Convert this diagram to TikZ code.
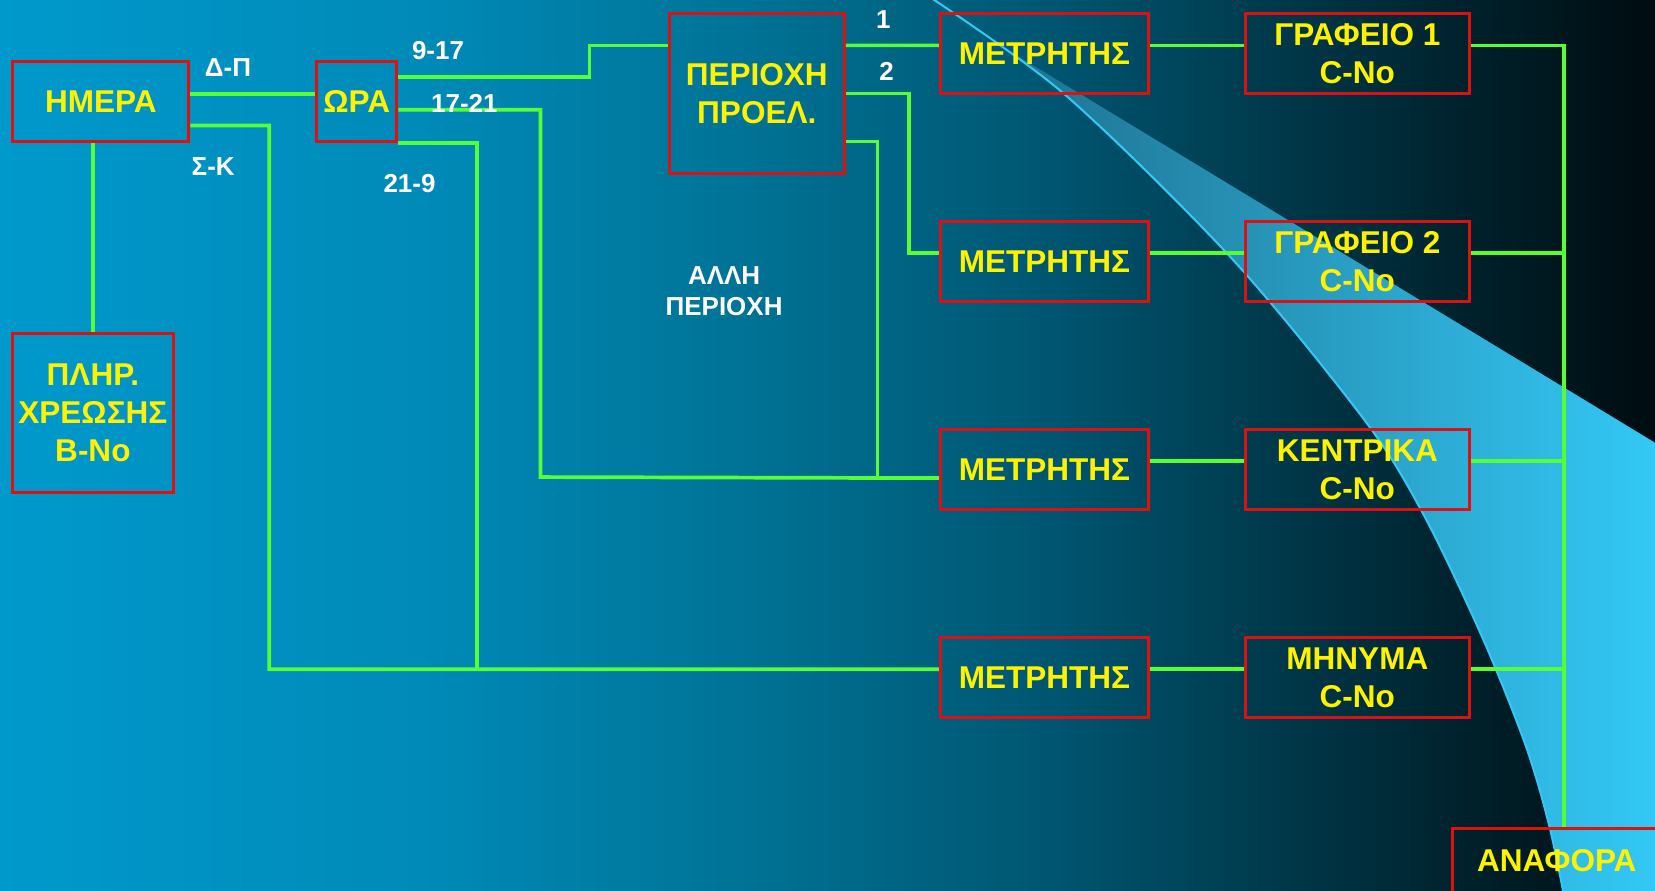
\documentclass[tikz,border=0pt]{standalone}
\usepackage{fontspec}
\setmainfont{Liberation Sans}
\usetikzlibrary{calc}
\definecolor{bgA}{RGB}{0,153,204}
\definecolor{bgB}{RGB}{0,138,184}
\definecolor{bgC}{RGB}{0,115,150}
\definecolor{bgD}{RGB}{0,85,112}
\definecolor{bgE}{RGB}{0,58,76}
\definecolor{bgF}{RGB}{0,32,42}
\definecolor{bgG}{RGB}{0,12,16}
\definecolor{boxred}{RGB}{222,17,17}
\definecolor{linkgreen}{RGB}{85,255,51}
\definecolor{bandlo}{RGB}{30,110,140}
\definecolor{bandhi}{RGB}{51,200,245}
\pgfdeclarehorizontalshading{bgshade}{100bp}{color(0bp)=(bgA); color(25bp)=(bgA); color(37.75bp)=(bgB); color(47.3bp)=(bgC); color(56.9bp)=(bgD); color(63.3bp)=(bgE); color(69.6bp)=(bgF); color(75bp)=(bgG); color(100bp)=(bgG)}
\tikzset{
  box/.style={draw=boxred, line width=1.6pt, text=yellow, align=center, inner sep=0pt,
    minimum height=1.52cm, font=\fontsize{17}{20.5}\selectfont\bfseries},
  link/.style={draw=linkgreen, line width=2pt},
  lbl/.style={text=white, font=\fontsize{14}{17}\selectfont\bfseries}
}

\begin{document}
\begin{tikzpicture}[x=0.02cm,y=-0.02cm]
\useasboundingbox (0,0) rectangle (1568,844);
\clip (0,0) rectangle (1568,844);
% Background
\shade[shading=bgshade] (0,0) rectangle (1568,844);

% Light band
\def\edge{(870,-10) (1007,88) (1168,246) (1295,401) (1350,490) (1404,603) (1445,705) (1468,783) (1486,870)}
\begin{scope}
  \clip plot[smooth, tension=0.5] coordinates {\edge} -- (1620,890) -- (1620,-20) -- cycle;
  \clip (880,2) -- (1620,451) -- (1620,890) -- (880,890) -- cycle;
  \shade[left color=bandlo, right color=bandhi] (929,0) rectangle (1568,844);
\end{scope}
\draw[bandhi, line width=1.1pt] plot[smooth, tension=0.5] coordinates {\edge};

% Boxes
\node[box, minimum width=3.34cm] (hmera) at (95.5,96) {ΗΜΕΡΑ};
\node[box, minimum width=1.52cm] (ora) at (338,96) {ΩΡΑ};
\node[box, minimum width=3.04cm, minimum height=3.02cm] (plir) at (88,391.5) {ΠΛΗΡ.\\ΧΡΕΩΣΗΣ\\B-No};
\node[box, minimum width=3.32cm, minimum height=3.02cm] (perioxi) at (717,88.5) {ΠΕΡΙΟΧΗ\\ΠΡΟΕΛ.};
\foreach \i/\y in {1/51,2/248,3/445,4/642}
  \node[box, minimum width=3.94cm] (m\i) at (989.5,\y) {ΜΕΤΡΗΤΗΣ};
\foreach \i/\y/\t in {1/51/ΓΡΑΦΕΙΟ 1,2/248/ΓΡΑΦΕΙΟ 2,3/445/ΚΕΝΤΡΙΚΑ,4/642/ΜΗΝΥΜΑ}
  \node[box, minimum width=4.24cm] (r\i) at (1286,\y) {\t\\C-No};
\node[box, minimum width=3.94cm, text depth=0.3cm] (anafora) at (1475,823) {ΑΝΑΦΟΡΑ};

% Connections
\coordinate (skcorner) at (255,634);
\coordinate (c1721) at (512,452);
\coordinate (c219) at (452,634);
\draw[link] ([yshift=.14cm]hmera.east) -- ([yshift=.14cm]ora.west);
\draw[link] ([yshift=-.46cm]hmera.east) -| (skcorner) -- ([yshift=.16cm]m4.west);
\draw[link] (plir.north |- hmera.south) -- (plir.north);
\draw[link] ([yshift=.46cm]ora.east) -- ++(181,0) |- ([yshift=.91cm]perioxi.west);
\draw[link] ([yshift=-.16cm]ora.east) -| (c1721) -- ([yshift=-.16cm]m3.west);
\draw[link] (ora.south east) -| (c219);
\draw[link] ([yshift=.91cm]perioxi.east) -- ([yshift=.16cm]m1.west);
\draw[link] (perioxi.east) -- ++(60,0) |- ([yshift=.16cm]m2.west);
\draw[link] ([yshift=-.91cm]perioxi.east) -- ++(30,0) |- ([yshift=-.16cm]m3.west);
\foreach \i in {1,...,4}
  \draw[link] ([yshift=.16cm]m\i.east) -- ([yshift=.16cm]r\i.west);
\draw[link] ([yshift=.16cm]r1.east) -| ([xshift=.14cm]anafora.north);
\foreach \i in {2,3,4}
  \draw[link] ([yshift=.16cm]r\i.east) -- ([yshift=.16cm]r\i.east -| anafora.north) -- ++(7,0);

% Labels
\node[lbl] (dp) at (216,64) {Δ-Π};
\node[lbl] (sk) at (202,158) {Σ-Κ};
\node[lbl] (t917) at (415,48) {9-17};
\node[lbl] (t1721) at (440,98) {17-21};
\node[lbl] (t219) at (388,174) {21-9};
\node[lbl] (one) at (837,19) {1};
\node[lbl] (two) at (840,68) {2};
\node[lbl, align=center] (alli) at (686,276) {ΑΛΛΗ\\ΠΕΡΙΟΧΗ};
\end{tikzpicture}
\end{document}
